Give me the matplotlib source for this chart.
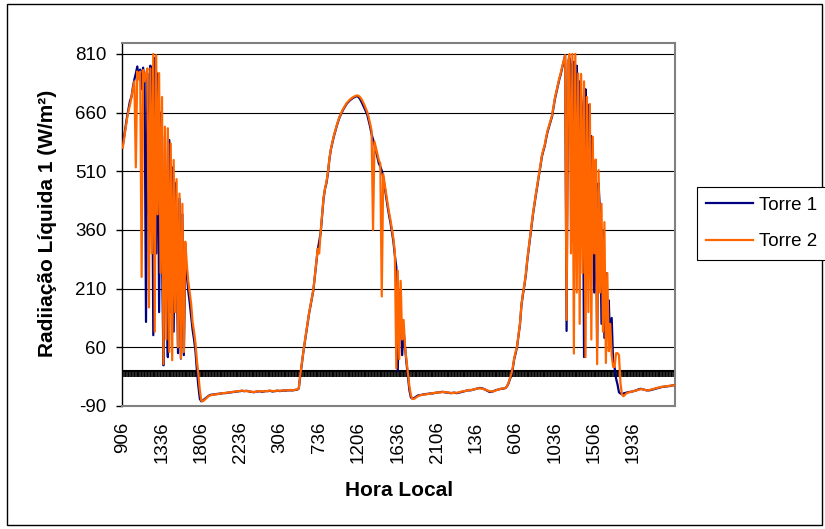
import matplotlib.pyplot as plt
import numpy as np

plt.rcParams['font.family'] = ['Liberation Sans', 'DejaVu Sans']

# Net radiation (W/m2) at each tower, 10-minute readings starting 09:06
torre1 = [
    575, 600, 625, 650, 670, 690, 700, 725, 745, 760,
    778, 750, 770, 720, 775, 740, 125, 760, 400, 780,
    700, 91, 800, 300, 760, 150, 660, 300, 14, 600,
    200, 35, 590, 150, 520, 100, 480, 300, 45, 440,
    31, 400, 40, 290, 250, 205, 175, 140, 105, 80,
    50, 0, -40, -72, -78, -76, -73, -70, -67, -64,
    -62, -61, -61, -60, -60, -59, -59, -58, -58, -57,
    -57, -57, -56, -56, -55, -55, -54, -54, -53, -53,
    -52, -52, -51, -52, -52, -51, -52, -53, -54, -54,
    -55, -54, -53, -53, -52, -53, -54, -53, -52, -52,
    -52, -51, -52, -53, -52, -52, -51, -51, -52, -51,
    -51, -50, -51, -50, -50, -50, -50, -50, -49, -49,
    -48, -45, -12, 15, 45, 70, 96, 120, 145, 165,
    185, 206, 240, 275, 310, 330, 352, 395, 440, 465,
    480, 505, 540, 565, 582, 598, 612, 625, 637, 648,
    656, 664, 671, 677, 683, 687, 691, 694, 697, 699,
    701, 702, 700, 695, 688, 680, 672, 664, 655, 640,
    624, 605, 592, 578, 562, 545, 530, 522, 512, 495,
    470, 445, 420, 398, 378, 355, 330, 295, 265, 0,
    200, 150, 40, 104, 60, 20, -16, -50, -68, -71,
    -70, -68, -65, -63, -62, -62, -61, -60, -60, -59,
    -59, -58, -58, -58, -57, -56, -56, -55, -55, -54,
    -54, -55, -55, -56, -56, -57, -57, -56, -56, -57,
    -57, -56, -55, -54, -53, -52, -51, -50, -50, -50,
    -49, -48, -47, -46, -45, -44, -44, -45, -46, -48,
    -50, -52, -54, -54, -53, -52, -50, -49, -48, -47,
    -46, -46, -45, -44, -40, -33, -22, -12, 5, 30,
    45, 62, 90, 120, 168, 195, 218, 245, 282, 312,
    342, 372, 402, 428, 452, 475, 500, 522, 547, 562,
    575, 595, 612, 625, 638, 650, 672, 695, 712, 730,
    745, 758, 775, 790, 807, 102, 790, 800, 780, 333,
    790, 700, 780, 365, 740, 700, 650, 35, 720, 600,
    680, 300, 600, 450, 200, 520, 60, 480, 400, 120,
    360, 84, 250, 140, 180, 60, 135, 20, 8, -20,
    -35, -55, -58, -60, -58, -57, -56, -55, -54, -54,
    -53, -52, -51, -50, -48, -47, -46, -47, -48, -49,
    -50, -50, -50, -49, -48, -47, -46, -45, -44, -43,
    -42, -41, -41, -40, -40, -39, -39, -38, -37, -37,
]

torre2 = [
    570, 595, 620, 645, 665, 680, 700, 720, 740, 520,
    765, 745, 765, 240, 769, 740, 760, 773, 162, 773,
    300, 810, 100, 807, 400, 761, 250, 700, 17, 624,
    80, 620, 48, 581, 27, 539, 150, 490, 60, 453,
    32, 427, 48, 330, 274, 230, 200, 172, 125, 100,
    70, 25, -10, -50, -76, -78, -75, -72, -68, -65,
    -63, -62, -61, -61, -60, -60, -59, -58, -58, -57,
    -57, -56, -56, -55, -55, -54, -54, -53, -53, -52,
    -52, -51, -51, -51, -52, -52, -52, -53, -53, -54,
    -54, -54, -53, -52, -52, -52, -53, -53, -52, -52,
    -51, -51, -51, -52, -52, -51, -51, -51, -51, -51,
    -50, -50, -50, -50, -50, -49, -49, -50, -49, -48,
    -48, -44, -10, 18, 48, 72, 98, 122, 147, 167,
    187, 208, 242, 277, 312, 300, 355, 398, 443, 466,
    483, 508, 542, 566, 584, 600, 614, 627, 639, 650,
    658, 666, 673, 679, 685, 689, 693, 696, 699, 701,
    703, 704, 703, 700, 695, 688, 680, 671, 662, 648,
    632, 614, 360, 586, 570, 553, 538, 530, 190, 503,
    478, 453, 428, 405, 385, 362, 338, 303, 6, 256,
    30, 230, 80, 130, 60, 27, -5, -40, -62, -72,
    -72, -70, -67, -65, -63, -62, -61, -61, -60, -60,
    -59, -59, -58, -57, -57, -56, -56, -55, -55, -55,
    -54, -54, -55, -55, -56, -56, -57, -57, -56, -56,
    -56, -55, -54, -53, -52, -52, -51, -50, -49, -49,
    -49, -48, -47, -46, -45, -45, -45, -46, -47, -48,
    -49, -51, -52, -53, -53, -52, -51, -49, -48, -47,
    -46, -45, -45, -44, -40, -32, -20, -8, 8, 32,
    48, 64, 92, 122, 170, 198, 220, 248, 285, 315,
    345, 375, 405, 430, 455, 478, 502, 525, 550, 565,
    578, 598, 615, 628, 640, 653, 675, 698, 715, 733,
    748, 762, 778, 792, 807, 130, 790, 810, 300, 810,
    44, 810, 200, 760, 120, 759, 250, 740, 35, 700,
    150, 682, 80, 598, 300, 540, 17, 513, 200, 427,
    100, 380, 20, 250, 50, 120, 40, 10, 10, 45,
    45, 40, -30, -60, -65, -62, -58, -56, -55, -54,
    -53, -52, -51, -50, -49, -48, -47, -47, -48, -49,
    -50, -50, -49, -48, -47, -46, -45, -44, -43, -42,
    -41, -41, -40, -40, -39, -39, -38, -38, -37, -37,
]

# time labels shown every 27 readings (4h30)
hour_labels = ["906", "1336", "1806", "2236", "306", "736", "1206",
               "1636", "2106", "136", "606", "1036", "1506", "1936"]
label_step = 27
y_ticks = [-90, 60, 210, 360, 510, 660, 810]

W, H = 825, 529
fig = plt.figure(figsize=(W / 100, H / 100), dpi=100)
ax = fig.add_axes([122 / W, 1 - 406 / H, (675 - 122) / W, (406 - 43) / H])

x = np.arange(len(torre1))
ax.plot(x, torre1, color='#000080', lw=1.6, label='Torre 1', zorder=3)
ax.plot(x, torre2, color='#FF6600', lw=1.6, label='Torre 2', zorder=4)

# category axis crossing at zero, one tick per reading
ax.axhline(0, color='black', lw=1.5, zorder=2)
ax.vlines(np.arange(len(x) + 1) - 0.5, -17, 3, color='black', lw=1.2, zorder=2)

ax.set_xlim(-0.5, len(x) - 0.5)
ax.set_ylim(-90, 838)
ax.set_yticks(y_ticks)
ax.set_yticklabels([str(v) for v in y_ticks], fontsize=13.5)
ax.yaxis.grid(True, color='black', lw=0.8)
ax.set_axisbelow(True)
ax.set_xticks(np.arange(len(hour_labels)) * label_step)
ax.set_xticklabels(hour_labels, rotation=90, fontsize=13.5)
ax.tick_params(axis='x', length=0, pad=11)
ax.tick_params(axis='y', length=4.3, width=1, pad=7)

for side in ['top', 'right', 'bottom']:
    ax.spines[side].set_color('#808080')
    ax.spines[side].set_linewidth(1.5)
ax.spines['left'].set_color('black')
ax.spines['left'].set_linewidth(1)

fig.text(48 / W, 1 - 223 / H, 'Radiiação Líquida 1 (W/m²)', rotation=90,
         ha='center', va='center', fontsize=15, fontweight='bold')
fig.text(399 / W, 1 - 490 / H, 'Hora Local', ha='center', va='center',
         fontsize=15, fontweight='bold')

leg = fig.legend(loc='upper left', bbox_to_anchor=(697 / W, 1 - 187 / H),
                 fontsize=13.5, frameon=True, fancybox=False, framealpha=1,
                 edgecolor='black', handlelength=2.5, handletextpad=0.3,
                 borderpad=0.5, labelspacing=1.05, borderaxespad=0)
leg.get_frame().set_linewidth(0.8)

# chart area border
fig.add_artist(plt.Rectangle((7 / W, 4 / H), (822 - 7) / W, (525 - 4) / H,
                             transform=fig.transFigure, fill=False,
                             edgecolor='black', lw=1))

fig.savefig('out.png', dpi=100)
